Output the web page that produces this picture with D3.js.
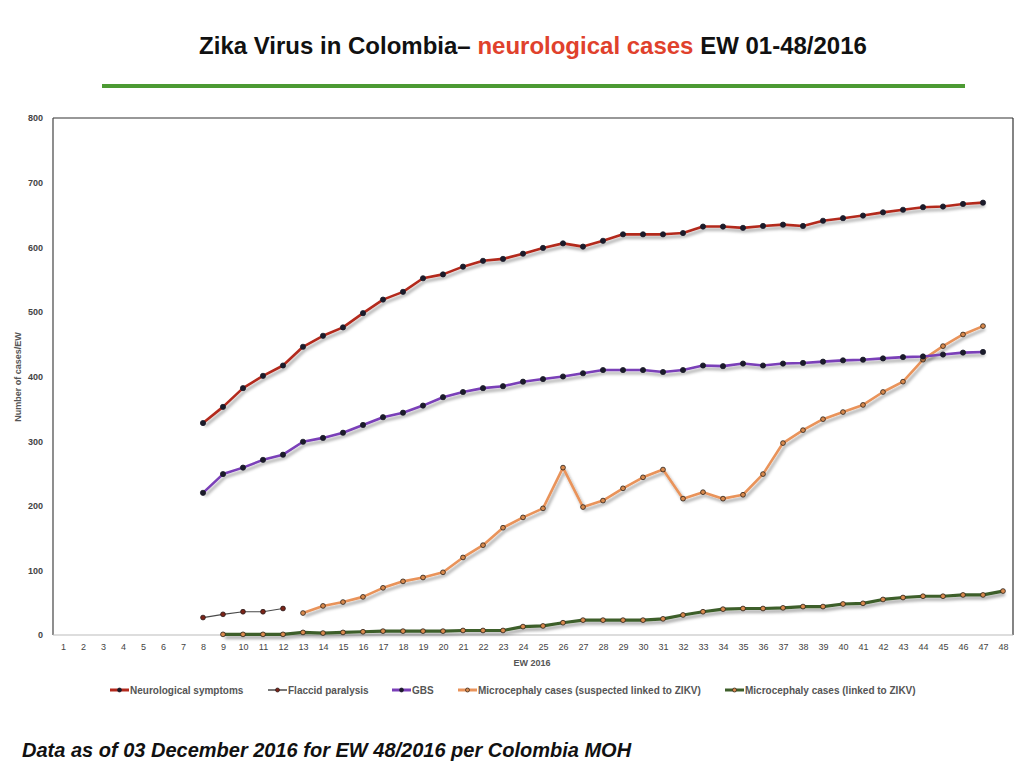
<!DOCTYPE html>
<html>
<head>
<meta charset="utf-8">
<script src="https://cdn.jsdelivr.net/npm/d3@7"></script>
<style>
  html, body { margin: 0; padding: 0; background: #fff; }
  svg { display: block; }
</style>
</head>
<body>
<svg id="chart" width="1024" height="768"></svg>
<script>
// ---- data ----
const weeks = d3.range(1, 49);
const weekLabels = weeks.map(String);
const yTicks = [0, 100, 200, 300, 400, 500, 600, 700, 800];

// values by epidemiological week (null = no data)
const neuroWeeks = d3.range(8, 48);
const neuroValues = [328, 353, 382, 401, 417, 446, 463, 476, 498, 519, 531, 552, 558, 570, 579, 582, 590, 599, 606, 601,
  610, 620, 620, 620, 622, 632, 632, 630, 633, 635, 633, 641, 645, 649, 654, 658, 662, 663, 667, 669];

const flaccidWeeks = [8, 9, 10, 11, 12];
const flaccidValues = [27, 32, 36, 36, 41];

const gbsWeeks = d3.range(8, 48);
const gbsValues = [220, 249, 259, 271, 279, 299, 305, 313, 325, 337, 344, 355, 368, 376, 382, 385, 392, 396, 400, 405,
  410, 410, 410, 407, 410, 417, 416, 420, 417, 420, 421, 423, 425, 426, 428, 430, 431, 434, 437, 438];

const microSuspWeeks = d3.range(13, 48);
const microSuspValues = [34, 45, 51, 59, 73, 83, 89, 97, 120, 139, 166, 182, 196, 259, 198, 208, 227, 244, 256,
  211, 221, 211, 217, 249, 297, 317, 334, 345, 356, 376, 392, 426, 447, 465, 478];

const microLinkedWeeks = d3.range(9, 49);
const microLinkedValues = [1, 1, 1, 1, 4, 3, 4, 5, 6, 6, 6, 6, 7, 7, 7, 13, 14, 19, 23, 23,
  23, 23, 25, 31, 36, 40, 41, 41, 42, 44, 44, 48, 49, 55, 58, 60, 60, 62, 62, 68];

const seriesNames = ["Neurological symptoms", "Flaccid paralysis", "GBS",
  "Microcephaly cases (suspected linked to ZIKV)", "Microcephaly cases (linked to ZIKV)"];

const series = [
  { name: seriesNames[0], weeks: neuroWeeks, values: neuroValues, color: "#b3291d", width: 2.6, dot: "#1b1b2a", dotStroke: "#1b1b2a", r: 2.6 },
  { name: seriesNames[1], weeks: flaccidWeeks, values: flaccidValues, color: "#4a4a4a", width: 1.2, dot: "#7a2418", dotStroke: "#2a1a1a", r: 2.4 },
  { name: seriesNames[2], weeks: gbsWeeks, values: gbsValues, color: "#7a3fb8", width: 2.6, dot: "#1b1b2a", dotStroke: "#1b1b2a", r: 2.6 },
  { name: seriesNames[3], weeks: microSuspWeeks, values: microSuspValues, color: "#e9935a", width: 2.6, dot: "#d98a4e", dotStroke: "#2a1f18", r: 2.4 },
  { name: seriesNames[4], weeks: microLinkedWeeks, values: microLinkedValues, color: "#3e5f2b", width: 3.2, dot: "#d98a4e", dotStroke: "#2a1f18", r: 2.4 }
];

// ---- layout ----
const svg = d3.select("#chart");
const plot = { left: 53, right: 1013, top: 118, bottom: 635 };

const defs = svg.append("defs");
const filt = defs.append("filter").attr("id", "shadow").attr("x", "-5%").attr("y", "-20%").attr("width", "110%").attr("height", "140%");
filt.append("feDropShadow").attr("dx", 2).attr("dy", 3).attr("stdDeviation", 1.6).attr("flood-color", "#000").attr("flood-opacity", 0.35);

// title
const title = svg.append("text")
  .attr("x", 533).attr("y", 54)
  .attr("text-anchor", "middle")
  .style("font-family", "'Liberation Sans', Arial, sans-serif")
  .style("font-weight", "bold")
  .style("font-size", "24px");
title.append("tspan").attr("fill", "#111").text("Zika Virus in Colombia\u2013  ");
title.append("tspan").attr("fill", "#e0412c").text("neurological cases");
title.append("tspan").attr("fill", "#111").text(" EW 01-48/2016");

svg.append("rect").attr("x", 102).attr("y", 84).attr("width", 863).attr("height", 4).attr("fill", "#4c9a33");

// scales
const x = d3.scalePoint().domain(weeks).range([plot.left, plot.right]).padding(0.5);
const y = d3.scaleLinear().domain([0, 800]).range([plot.bottom, plot.top]);

// plot frame
svg.append("line").attr("x1", plot.left).attr("x2", plot.right).attr("y1", plot.top).attr("y2", plot.top).attr("stroke", "#333").attr("stroke-width", 1.2);
svg.append("line").attr("x1", plot.left).attr("x2", plot.left).attr("y1", plot.top).attr("y2", plot.bottom).attr("stroke", "#444").attr("stroke-width", 1.2);
svg.append("line").attr("x1", plot.right).attr("x2", plot.right).attr("y1", plot.top).attr("y2", plot.bottom).attr("stroke", "#333").attr("stroke-width", 1.2);
svg.append("line").attr("x1", plot.left).attr("x2", plot.right).attr("y1", plot.bottom).attr("y2", plot.bottom).attr("stroke", "#bbb").attr("stroke-width", 1);

// y axis
const yAxis = d3.axisLeft(y).tickValues(yTicks).tickSize(0).tickPadding(10);
const gy = svg.append("g").attr("transform", `translate(${plot.left},0)`).call(yAxis);
gy.select(".domain").remove();
gy.selectAll("text")
  .style("font-family", "'Liberation Sans', Arial, sans-serif")
  .style("font-size", "9px").style("font-weight", "bold").attr("fill", "#444");

// x axis
const xAxis = d3.axisBottom(x).tickFormat((d, i) => weekLabels[i]).tickSize(0).tickPadding(9);
const gx = svg.append("g").attr("transform", `translate(0,${plot.bottom})`).call(xAxis);
gx.select(".domain").remove();
gx.selectAll("text")
  .style("font-family", "'Liberation Sans', Arial, sans-serif")
  .style("font-size", "9px").attr("fill", "#444");

// axis titles
svg.append("text")
  .attr("transform", "translate(21,377) rotate(-90)")
  .attr("text-anchor", "middle")
  .style("font-family", "'Liberation Sans', Arial, sans-serif")
  .style("font-size", "9px").style("font-weight", "bold").attr("fill", "#555")
  .text("Number of cases/EW");
svg.append("text")
  .attr("x", 532).attr("y", 666)
  .attr("text-anchor", "middle")
  .style("font-family", "'Liberation Sans', Arial, sans-serif")
  .style("font-size", "9px").style("font-weight", "bold").attr("fill", "#555")
  .text("EW 2016");

// lines
const line = d3.line().x(d => x(d.w)).y(d => y(d.v));
const drawOrder = [4, 1, 3, 2, 0];
drawOrder.forEach(i => {
  const s = series[i];
  const pts = s.weeks.map((w, j) => ({ w, v: s.values[j] }));
  const g = svg.append("g");
  g.append("path").datum(pts)
    .attr("d", line)
    .attr("fill", "none")
    .attr("stroke", s.color)
    .attr("stroke-width", s.width)
    .attr("stroke-linejoin", "round")
    .attr("filter", i === 1 ? null : "url(#shadow)");
  g.selectAll("circle").data(pts).join("circle")
    .attr("cx", d => x(d.w)).attr("cy", d => y(d.v))
    .attr("r", s.r)
    .attr("fill", s.dot)
    .attr("stroke", s.dotStroke)
    .attr("stroke-width", 0.8);
});

// legend
const legendX = [110, 268, 392, 458, 725];
const legend = svg.append("g").attr("transform", "translate(0,690)");
series.forEach((s, i) => {
  const g = legend.append("g").attr("transform", `translate(${legendX[i]},0)`);
  g.append("line").attr("x1", 0).attr("x2", 19).attr("y1", 0).attr("y2", 0)
    .attr("stroke", s.color).attr("stroke-width", i === 1 ? 1.5 : 3);
  g.append("circle").attr("cx", 9.5).attr("cy", 0).attr("r", 2)
    .attr("fill", s.dot).attr("stroke", s.dotStroke).attr("stroke-width", 0.7);
  g.append("text").attr("x", 20).attr("y", 3.5)
    .style("font-family", "'Liberation Sans', Arial, sans-serif")
    .style("font-size", "10px").style("font-weight", "bold").attr("fill", "#555")
    .text(s.name);
});

// footnote
svg.append("text")
  .attr("x", 22).attr("y", 757)
  .style("font-family", "'Liberation Sans', Arial, sans-serif")
  .style("font-size", "20px").style("font-weight", "bold").style("font-style", "italic")
  .attr("fill", "#111")
  .text("Data as of 03 December 2016 for EW 48/2016 per Colombia MOH");
</script>
</body>
</html>
